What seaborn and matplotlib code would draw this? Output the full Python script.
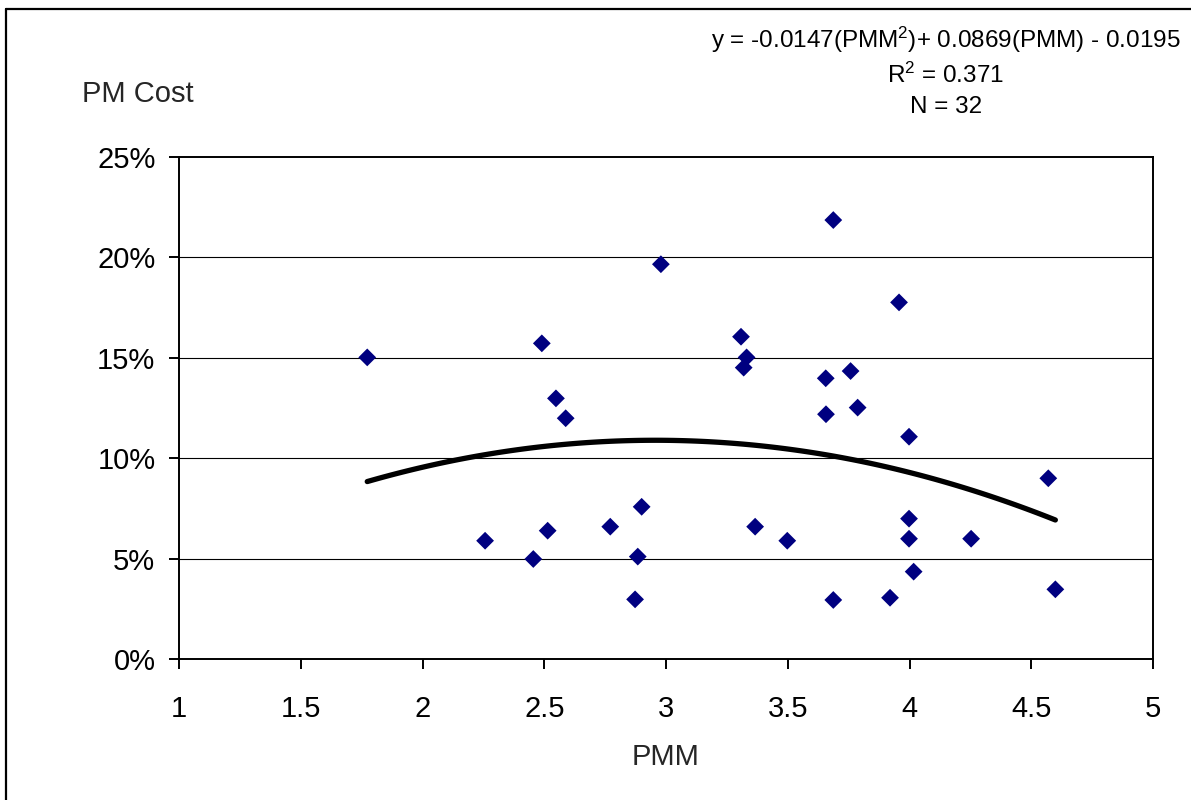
import numpy as np
import pandas as pd
import matplotlib
matplotlib.use("Agg")
import matplotlib.pyplot as plt
import seaborn as sns
from matplotlib.ticker import PercentFormatter, MultipleLocator
from matplotlib.lines import Line2D

# data
pmm = [1.773, 2.490, 2.979, 3.308, 3.331, 3.319, 2.548, 2.588,
       2.257, 2.455, 2.514, 2.771, 2.900, 2.884, 2.873, 3.366,
       3.687, 3.957, 3.656, 3.758, 3.657, 3.787, 3.998, 4.570,
       3.498, 3.998, 3.998, 4.253, 4.017, 3.687, 3.920, 4.599]
pm_cost = [0.1502, 0.1572, 0.1966, 0.1605, 0.1502, 0.1451, 0.1298, 0.1199,
           0.0589, 0.0498, 0.0639, 0.0659, 0.0758, 0.0510, 0.0297, 0.0659,
           0.2186, 0.1776, 0.1398, 0.1434, 0.1219, 0.1252, 0.1107, 0.0900,
           0.0589, 0.0699, 0.0599, 0.0599, 0.0435, 0.0294, 0.0305, 0.0347]

# trend line coefficients as printed on the chart (x^2, x, const)
trend_coef = [-0.0147, 0.0869, -0.0195]
r_squared = 0.371

df = pd.DataFrame({"PMM": pmm, "PM Cost": pm_cost})
x_fit = np.linspace(min(pmm), max(pmm), 120)
fit = pd.DataFrame({"PMM": x_fit, "PM Cost": np.polyval(trend_coef, x_fit)})

sns.set_style("white")
plt.rcParams["font.family"] = ["Liberation Sans", "DejaVu Sans"]
plt.rcParams["mathtext.fontset"] = "custom"
plt.rcParams["mathtext.rm"] = "Liberation Sans"
plt.rcParams["mathtext.it"] = "Liberation Sans"

fig = plt.figure(figsize=(11.91, 8.0), dpi=100)
ax = fig.add_axes([0.1503, 0.17625, 0.8178, 0.6275])

# gridlines
for v in [0.05, 0.10, 0.15, 0.20]:
    ax.axhline(v, color="black", lw=0.8, zorder=1)

sns.lineplot(data=fit, x="PMM", y="PM Cost", ax=ax, color="black", lw=3.8,
             zorder=2, solid_capstyle="round")
sns.scatterplot(data=df, x="PMM", y="PM Cost", ax=ax, marker="D", s=82,
                color="#000080", edgecolor="none", zorder=3)

ax.set_xlim(1, 5)
ax.set_ylim(0, 0.25)
ax.yaxis.set_major_locator(MultipleLocator(0.05))
ax.yaxis.set_major_formatter(PercentFormatter(1.0, decimals=0))
ax.set_xticks([1, 1.5, 2, 2.5, 3, 3.5, 4, 4.5, 5])
ax.set_xticklabels(["1", "1.5", "2", "2.5", "3", "3.5", "4", "4.5", "5"])

for s in ax.spines.values():
    s.set_visible(True)
    s.set_color("black")
    s.set_linewidth(1.4)

ax.tick_params(axis="both", direction="out", length=7, width=1.4,
               colors="black", labelsize=21)
ax.tick_params(axis="x", pad=19, bottom=True)
ax.tick_params(axis="y", pad=10, left=True)

ax.set_xlabel("PMM", fontsize=21, labelpad=14)
ax.set_ylabel("")
fig.text(82 / 1191, 1 - 94 / 800, "PM Cost", fontsize=21, ha="left", va="center")

# equation box text
fig.text(946 / 1191, 1 - 40 / 800,
         "y = -0.0147(PMM$^{2}$)+ 0.0869(PMM) - 0.0195",
         fontsize=17.5, ha="center", va="center", color="black")
fig.text(946 / 1191, 1 - 75 / 800, "R$^{2}$ = %.3f" % r_squared,
         fontsize=17.5, ha="center", va="center", color="black")
fig.text(946 / 1191, 1 - 107 / 800, "N = %d" % len(pmm),
         fontsize=17.5, ha="center", va="center", color="black")

# outer chart border (left and top)
fig.add_artist(Line2D([6 / 1191, 6 / 1191], [0, 1 - 9 / 800],
                      transform=fig.transFigure, color="black", lw=1.6))
fig.add_artist(Line2D([6 / 1191, 1], [1 - 9 / 800, 1 - 9 / 800],
                      transform=fig.transFigure, color="black", lw=1.6))

fig.savefig("out.png", dpi=100)
